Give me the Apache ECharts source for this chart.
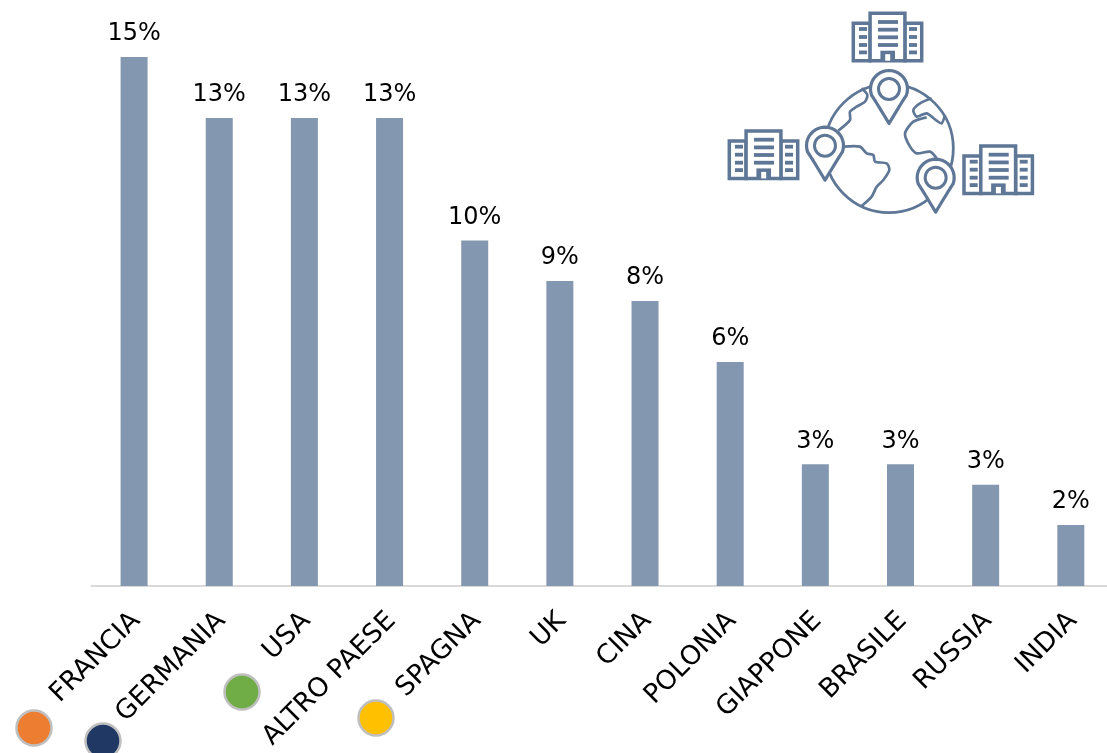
<!DOCTYPE html>
<html><head><meta charset="utf-8">
<style>html,body{margin:0;padding:0;background:#fff}#c{width:1107px;height:753px}</style>
<script src="https://cdn.jsdelivr.net/npm/echarts@6/dist/echarts.min.js"></script>
</head><body><div id="c"></div>
<script>
const categories=['FRANCIA','GERMANIA','USA','ALTRO PAESE','SPAGNA','UK','CINA','POLONIA','GIAPPONE','BRASILE','RUSSIA','INDIA'];
const shares=[15.0,13.27,13.27,13.27,9.8,8.65,8.08,6.35,3.45,3.45,2.87,1.73];
const shareLabels=['15%','13%','13%','13%','10%','9%','8%','6%','3%','3%','3%','2%'];
const barColor='#8497B0', ink='#5F7796', font='"DejaVu Sans",Verdana,sans-serif';
const z=(x,y)=>[710+x/3,y/3];

function building(dx,dy){
  const ch=[];
  const box=(x,y,w,h,zz)=>({type:'rect',z:zz,shape:{x,y,width:w,height:h},style:{fill:'#fff',stroke:ink,lineWidth:3.5}});
  const bar=(x,y,w,h)=>({type:'rect',z:6,shape:{x,y,width:w,height:h},style:{fill:ink}});
  ch.push(box(1.6,11.6,16.8,37.4,5),box(53.2,11.6,16.8,37.4,5),box(18.4,1.6,34.8,47.4,5));
  [10.3,18,25.6,33.3].forEach(y=>ch.push(bar(26.3,y-1.9,20,3.8)));
  [17.3,25.3,33.3,40.7].forEach(y=>{ch.push(bar(7.3,y-1.9,8,3.8),bar(57.3,y-1.9,8,3.8));});
  ch.push(bar(28.7,39,14.6,11),{type:'rect',z:7,shape:{x:33.5,y:42.5,width:5,height:6.5},style:{fill:'#fff'}});
  return {type:'group',x:851.7+dx,y:11.7+dy,children:ch};
}
function pinOutline(r,t){
  const pts=[];
  for(let a=-200;a<=20;a+=10){const q=a*Math.PI/180;pts.push([r*Math.cos(q),r*Math.sin(q)]);}
  const sx=r*Math.cos(20*Math.PI/180), sy=r*Math.sin(20*Math.PI/180);
  const cx=sx-6, cy=sy+9;
  for(let i=1;i<=8;i++){const u=i/8;pts.push([(1-u)*(1-u)*sx+2*u*(1-u)*cx,(1-u)*(1-u)*sy+2*u*(1-u)*cy+u*u*t]);}
  for(let i=7;i>=1;i--){const u=i/8;pts.push([-((1-u)*(1-u)*sx+2*u*(1-u)*cx),(1-u)*(1-u)*sy+2*u*(1-u)*cy+u*u*t]);}
  return pts;
}
function pin(cx,cy){
  const [x,y]=z(cx,cy);
  return {type:'group',x,y,children:[
    {type:'polygon',z:8,shape:{points:pinOutline(18.5,34.5)},style:{fill:'#fff',stroke:ink,lineWidth:3.2,lineJoin:'round'}},
    {type:'circle',z:9,shape:{cx:0,cy:0,r:10.5},style:{fill:'#fff',stroke:ink,lineWidth:3}}
  ]};
}
function land(pts){
  return {type:'polyline',z:6,shape:{points:pts.map(p=>z(p[0],p[1])),smooth:0.25},style:{fill:null,stroke:ink,lineWidth:2.7}};
}
function dot(cx,cy,c){
  return {type:'circle',z:10,shape:{cx,cy,r:17.5},style:{fill:c,stroke:'#BFBFBF',lineWidth:2.5}};
}
const g=z(537,445);
const graphics=[
  building(0,0),building(-124,117.7),building(110.7,132.7),
  {type:'circle',z:5,shape:{cx:g[0],cy:g[1],r:64.3},style:{fill:'#fff',stroke:ink,lineWidth:2.8}},
  land([[455,265],[472,285],[465,305],[440,320],[420,335],[420,360],[385,392]]),
  land([[400,440],[450,440],[470,460],[490,465],[495,485],[530,490],[538,510],[520,540],[500,560],[485,590],[455,618]]),
  land([[665,295],[630,310],[610,330],[620,350],[650,340],[680,362],[695,370],[705,345]]),
  land([[650,352],[610,365],[585,400],[600,440],[620,460],[660,455],[680,475]]),
  pin(537,267),pin(345,437),pin(677,533),
  dot(34,728,'#ED7D31'),dot(103,741,'#1F3864'),dot(242,692,'#70AD47'),dot(376,718,'#FFC000')
];
const chart=echarts.init(document.getElementById('c'),null,{renderer:'canvas'});
chart.setOption({
  animation:false,
  backgroundColor:'#fff',
  grid:{left:91.5,top:0,right:-6.4,bottom:167,containLabel:false,outerBoundsMode:'none'},
  xAxis:{type:'category',data:categories,axisTick:{show:false},
    axisLine:{lineStyle:{color:'#D9D9D9',width:2}},
    axisLabel:{interval:0,rotate:45,fontSize:26.5,fontFamily:font,color:'#000',margin:33,padding:[0,-3,0,0],hideOverlap:false}},
  yAxis:{type:'value',min:0,max:16.62,show:false,splitLine:{show:false}},
  series:[{type:'bar',data:shares,barWidth:27,itemStyle:{color:barColor},
    label:{show:true,position:'top',distance:11,fontSize:24,fontFamily:font,color:'#000',
      formatter:p=>shareLabels[p.dataIndex]}}],
  graphic:graphics
});
</script></body></html>
